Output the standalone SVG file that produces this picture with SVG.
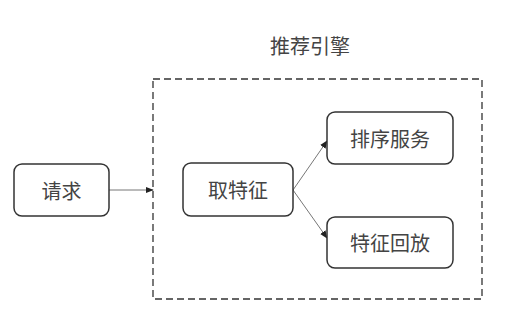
<svg xmlns="http://www.w3.org/2000/svg" width="509" height="318" viewBox="0 0 509 318">
<defs>
<style>
.box{fill:#fff;stroke:#333;stroke-width:1.5}
.t{font-family:"Noto Sans CJK SC","Noto Sans CJK JP",sans-serif;font-size:20px;fill:#444;text-anchor:middle;dominant-baseline:central}
.e{stroke:#777;stroke-width:1;fill:none}
</style>
<marker id="ah" viewBox="0 0 10 10" refX="9" refY="5" markerWidth="8" markerHeight="8" orient="auto" markerUnits="userSpaceOnUse">
<path d="M0,1 L10,5 L0,9 Z" fill="#222"/>
</marker>
</defs>
<rect width="509" height="318" fill="#fff"/>
<g id="engine">
<rect x="153" y="79" width="329" height="220" fill="none" stroke="#333" stroke-width="1.3" stroke-dasharray="7,4"/>
<text class="t" x="310" y="45">推荐引擎</text>
</g>
<g id="connectors">
<line class="e" x1="109" y1="190" x2="153" y2="190" marker-end="url(#ah)"/>
<line class="e" x1="293" y1="190" x2="327" y2="141" marker-end="url(#ah)"/>
<line class="e" x1="293" y1="190" x2="327" y2="238" marker-end="url(#ah)"/>
</g>
<g id="req">
<rect class="box" x="14" y="164" width="95" height="52" rx="8"/>
<text class="t" x="61.5" y="190">请求</text>
</g>
<g id="feat">
<rect class="box" x="183" y="163" width="110" height="53" rx="8"/>
<text class="t" x="238" y="189.5">取特征</text>
</g>
<g id="rank">
<rect class="box" x="327" y="112" width="126" height="52" rx="8"/>
<text class="t" x="390" y="138">排序服务</text>
</g>
<g id="replay">
<rect class="box" x="327" y="217" width="126" height="51" rx="8"/>
<text class="t" x="390" y="242.5">特征回放</text>
</g>
</svg>
